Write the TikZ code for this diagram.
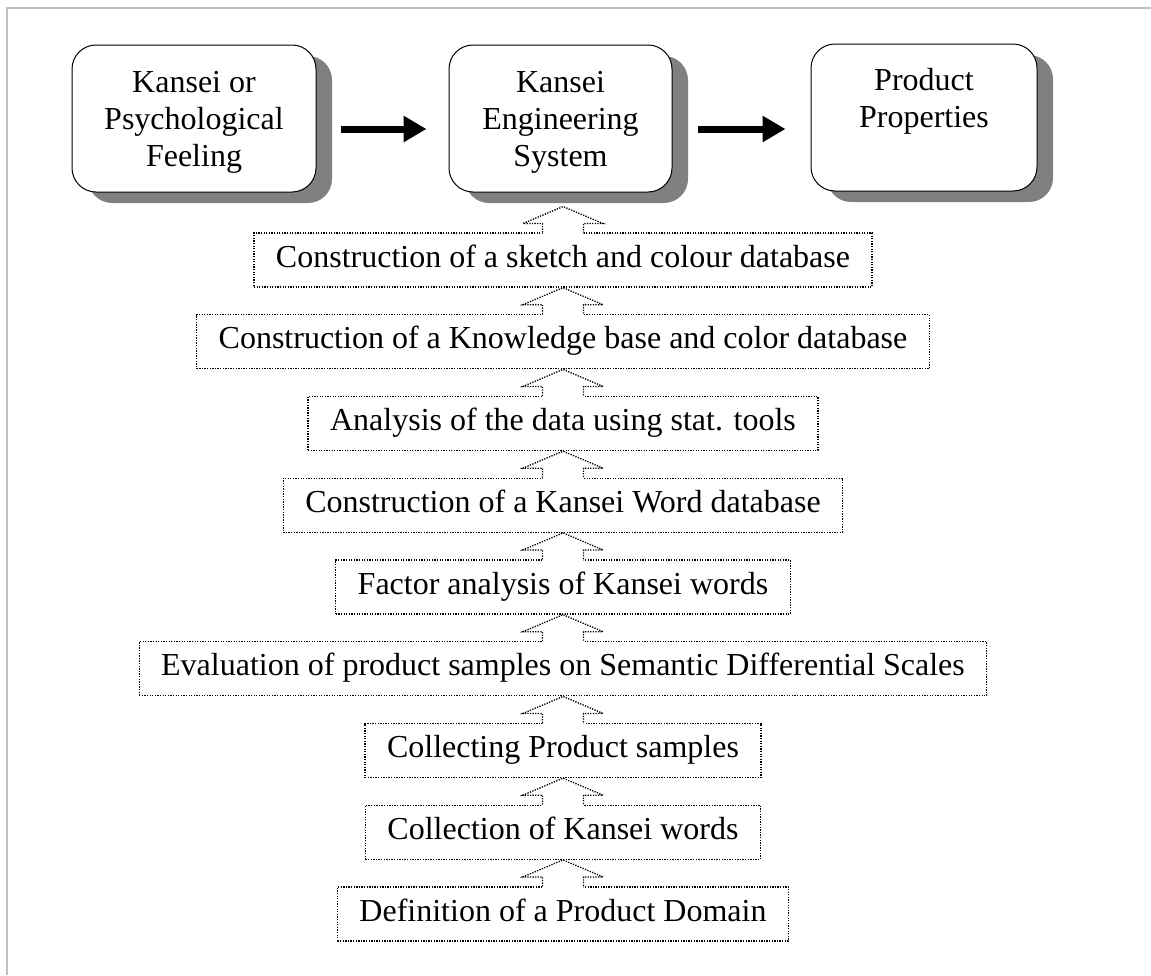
\documentclass[tikz,border=0pt]{standalone}
\usepackage{fontspec}
\setmainfont{Liberation Serif}
\usetikzlibrary{arrows.meta,shadows,calc}
\definecolor{framegrey}{HTML}{C0C0C0}
\definecolor{shadowgrey}{HTML}{808080}

\tikzset{
  topbox/.style={draw=black, line width=1pt, fill=white, rounded corners=24pt,
    inner sep=0pt, font=\fontsize{32pt}{37pt}\selectfont,
    drop shadow={shadow xshift=16pt, shadow yshift=-11pt, fill=shadowgrey, opacity=1}},
  dotstyle/.style={draw=black, line width=1.3pt, dash pattern=on 1.3pt off 1.3pt},
  stepbox/.style={dotstyle, fill=white,
    inner xsep=22pt, inner ysep=12pt, text height=22pt, text depth=8pt,
    font=\fontsize{32pt}{37pt}\selectfont},
  bigarrow/.style={line width=7pt, -{Triangle[length=23pt, width=25pt]}},
}

% hollow dotted up-arrow standing on the top edge of #1, tip at #2
\newcommand{\hollowup}[2]{%
  \fill[white] let \p1=(#1.north), \p2=(#2) in
    (\x1-20.5pt,\y1-1.5pt) -- (\x1-20.5pt,\y2-17pt) -- (\x1-40pt,\y2-17pt) -- (\x1,\y2)
    -- (\x1+40pt,\y2-17pt) -- (\x1+20.5pt,\y2-17pt) -- (\x1+20.5pt,\y1-1.5pt) -- cycle;
  \draw[dotstyle] let \p1=(#1.north), \p2=(#2) in
    (\x1-20.5pt,\y1) -- (\x1-20.5pt,\y2-17pt) -- (\x1-40pt,\y2-17pt) -- (\x1,\y2)
    -- (\x1+40pt,\y2-17pt) -- (\x1+20.5pt,\y2-17pt) -- (\x1+20.5pt,\y1);
}

\begin{document}
\begin{tikzpicture}[x=1pt, y=-1pt]
\useasboundingbox (0,0) rectangle (1151,975);
\fill[white] (0,0) rectangle (1151,975);

% frame
\draw[framegrey, line width=2pt] (7,975) -- (7,8) -- (1151,8);

% top row
\node[topbox] (k1) at (194,118.5)
  {\parbox[c][147pt][t]{244pt}{\centering\rule{0pt}{47pt}Kansei or\\Psychological\\Feeling}};
\node[topbox] (k2) at (560.5,118.5)
  {\parbox[c][147pt][t]{223pt}{\centering\rule{0pt}{47pt}Kansei\\Engineering\\System}};
\node[topbox] (k3) at (924,117.5)
  {\parbox[c][147pt][t]{226pt}{\centering\rule{0pt}{46pt}Product\\Properties}};

\draw[bigarrow, shorten <=24pt, shorten >=22pt]
  ([yshift=-10.5pt]k1.east) -- ([yshift=-10.5pt]k2.west);
\draw[bigarrow, shorten <=25pt, shorten >=25pt]
  ([yshift=-10.5pt]k2.east) -- ([yshift=-11.5pt]k3.west);

% steps
\node[stepbox] (s1) at (563,260)    {Construction of a sketch and colour database};
\node[stepbox] (s2) at (563,341.75) {Construction of a Knowledge base and color database};
\node[stepbox] (s3) at (563,423.5)  {Analysis of the data using stat. tools};
\node[stepbox] (s4) at (563,505.25) {Construction of a Kansei Word database};
\node[stepbox] (s5) at (563,587)    {Factor analysis of Kansei words};
\node[stepbox] (s6) at (563,668.75) {Evaluation of product samples on Semantic Differential Scales};
\node[stepbox] (s7) at (563,750.5)  {Collecting Product samples};
\node[stepbox] (s8) at (563,832.25) {Collection of Kansei words};
\node[stepbox] (s9) at (563,914)    {Definition of a Product Domain};

% hollow arrows
\coordinate (ktip) at ([yshift=-14pt]k2.south);
\hollowup{s1}{ktip}
\hollowup{s2}{s1.south}
\hollowup{s3}{s2.south}
\hollowup{s4}{s3.south}
\hollowup{s5}{s4.south}
\hollowup{s6}{s5.south}
\hollowup{s7}{s6.south}
\hollowup{s8}{s7.south}
\hollowup{s9}{s8.south}
\end{tikzpicture}
\end{document}
